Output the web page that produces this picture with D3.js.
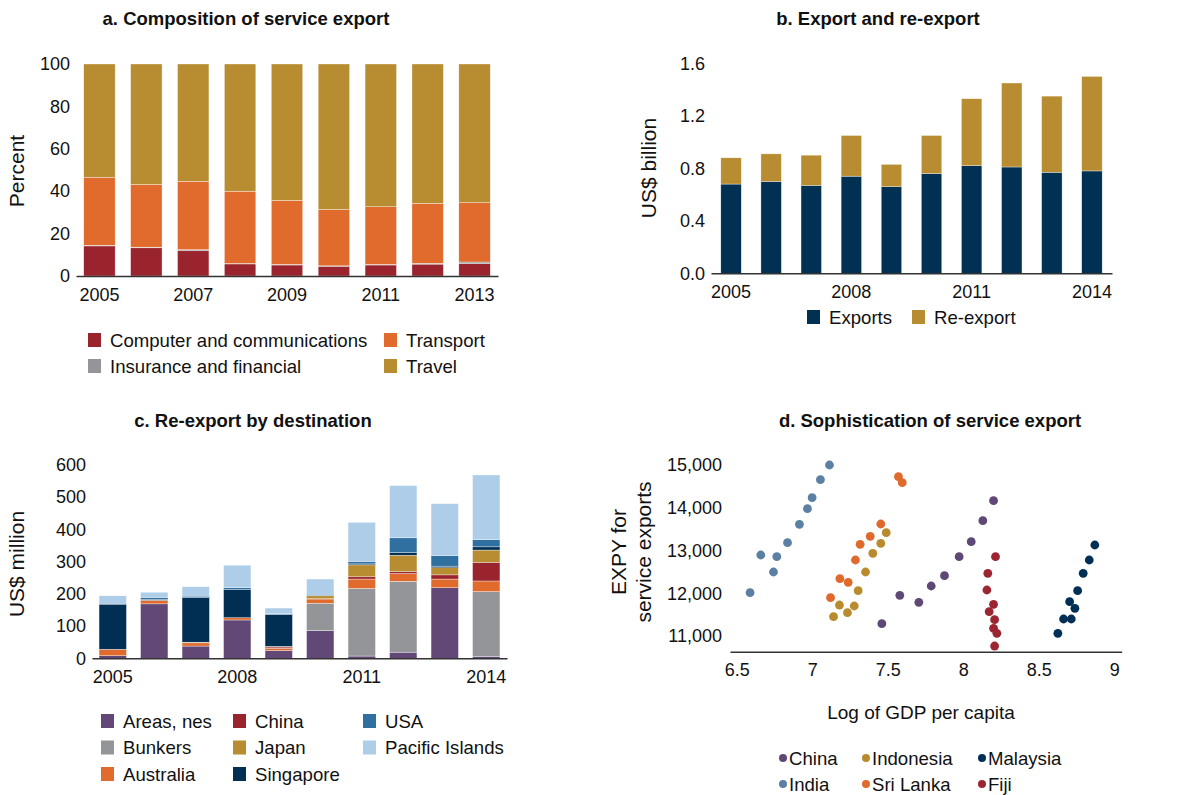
<!DOCTYPE html>
<html>
<head>
<meta charset="utf-8">
<script src="https://cdn.jsdelivr.net/npm/d3@7/dist/d3.min.js"></script>
<style>
  html, body { margin: 0; padding: 0; background: #fff; }
  svg { display: block; font-family: "Liberation Sans", Arial, Helvetica, sans-serif; }
  .axis text { font-size: 18px; fill: #111; }
</style>
</head>
<body>
<svg id="chart" width="1198" height="795"></svg>
<script>
// ---------- Panel a: Composition of service export (percent) ----------
const yearsA = [2005, 2006, 2007, 2008, 2009, 2010, 2011, 2012, 2013];
const compComm = [14.2, 13.3, 11.9, 5.7, 5.2, 4.6, 5.2, 5.6, 5.8];
const insFin   = [0.3, 0.3, 0.5, 0.2, 0.3, 0.2, 0.3, 0.4, 0.8];
const transport = [32.1, 29.6, 32.3, 34.1, 30.2, 26.6, 27.2, 28.3, 28.0];
const travel   = [53.4, 56.8, 55.3, 60.0, 64.3, 68.6, 67.3, 65.7, 65.4];
const seriesA = ["Computer and communications", "Insurance and financial", "Transport", "Travel"];
const ticksA = [0, 20, 40, 60, 80, 100];
const xLabelsA = [2005, 2007, 2009, 2011, 2013];

// ---------- Panel b: Export and re-export (US$ billion) ----------
const yearsB = [2005, 2006, 2007, 2008, 2009, 2010, 2011, 2012, 2013, 2014];
const exportsB  = [0.68, 0.70, 0.67, 0.74, 0.66, 0.76, 0.82, 0.81, 0.77, 0.78];
const reexportB = [0.20, 0.21, 0.23, 0.31, 0.17, 0.29, 0.51, 0.64, 0.58, 0.72];
const seriesB = ["Exports", "Re-export"];
const ticksB = [0, 0.4, 0.8, 1.2, 1.6];
const xLabelsB = [2005, 2008, 2011, 2014];

// ---------- Panel c: Re-export by destination (US$ million) ----------
const yearsC = [2005, 2006, 2007, 2008, 2009, 2010, 2011, 2012, 2013, 2014];
const areasNes  = [8, 169, 38, 119, 24, 86, 7, 19, 219, 6];
const bunkers   = [0, 0, 0, 0, 0, 85, 210, 220, 0, 201];
const australia = [20, 11, 10, 7, 7, 13, 29, 24, 27, 33];
const chinaC    = [0, 0, 0, 0, 4, 1, 7, 6, 13, 58];
const japan     = [0, 0, 2, 0, 2, 9, 37, 51, 22, 38];
const singapore = [140, 3, 138, 87, 99, 1, 3, 8, 5, 10];
const usa       = [3, 6, 5, 6, 3, 4, 8, 46, 33, 22];
const pacific   = [23, 16, 29, 70, 17, 47, 121, 162, 161, 201];
const seriesC = ["Areas, nes", "Bunkers", "Australia", "China", "Japan", "Singapore", "USA", "Pacific Islands"];
const ticksC = [0, 100, 200, 300, 400, 500, 600];
const xLabelsC = [2005, 2008, 2011, 2014];

// ---------- Panel d: Sophistication of service export ----------
const countriesD = ["China", "Indonesia", "Malaysia", "India", "Sri Lanka", "Fiji"];
const chinaGdp = [8.201, 8.130, 8.053, 7.973, 7.876, 7.788, 7.706, 7.580, 7.461];
const chinaExpy = [14166, 13698, 13207, 12856, 12411, 12170, 11788, 11951, 11289];
const indonesiaGdp = [7.490, 7.454, 7.401, 7.353, 7.304, 7.180, 7.278, 7.233, 7.141];
const indonesiaExpy = [13417, 13168, 12934, 12497, 12060, 11725, 11702, 11546, 11452];
const malaysiaGdp = [8.872, 8.835, 8.795, 8.758, 8.705, 8.740, 8.665, 8.716, 8.627];
const malaysiaExpy = [13129, 12778, 12466, 12060, 11803, 11647, 11398, 11398, 11062];
const indiaGdp = [6.588, 6.659, 6.765, 6.743, 6.836, 6.915, 6.968, 6.999, 7.054, 7.114];
const indiaExpy = [12014, 12895, 12856, 12497, 13183, 13612, 13979, 14236, 14657, 15000];
const sriLankaGdp = [7.571, 7.596, 7.454, 7.384, 7.317, 7.286, 7.183, 7.238, 7.121];
const sriLankaExpy = [14727, 14587, 13620, 13331, 13144, 12778, 12341, 12255, 11897];
const fijiGdp = [8.214, 8.163, 8.157, 8.201, 8.172, 8.208, 8.201, 8.223, 8.208];
const fijiExpy = [12856, 12466, 12076, 11741, 11569, 11382, 11179, 11062, 10766];
const ticksDx = [6.5, 7, 7.5, 8, 8.5, 9];
const ticksDy = [11000, 12000, 13000, 14000, 15000];

// ---------- Colours ----------
const colA = { "Computer and communications": "#9a242e", "Insurance and financial": "#939598", "Transport": "#e06b2c", "Travel": "#b88c30" };
const colB = { "Exports": "#003153", "Re-export": "#b88c30" };
const colC = { "Areas, nes": "#624876", "Bunkers": "#939598", "Australia": "#e06b2c", "China": "#9a242e",
               "Japan": "#b88c30", "Singapore": "#002f53", "USA": "#2f70a1", "Pacific Islands": "#aecde9" };
const colD = { "China": "#5f4876", "Indonesia": "#b88c2e", "Malaysia": "#002f56", "India": "#5b80a3", "Sri Lanka": "#e06a2c", "Fiji": "#9b2530" };

const svg = d3.select("#chart");
const AXIS_COLOR = "#333";

function title(x, y, txt) {
  svg.append("text").attr("x", x).attr("y", y).attr("text-anchor", "middle")
    .attr("font-size", 18.5).attr("font-weight", "bold").attr("fill", "#111").text(txt);
}
function yLabel(x, y, lines) {
  const t = svg.append("text").attr("transform", `translate(${x},${y}) rotate(-90)`)
    .attr("text-anchor", "middle").attr("font-size", 21).attr("fill", "#111");
  lines.forEach((l, i) => t.append("tspan").attr("x", 0).attr("dy", i === 0 ? 0 : 25).text(l));
}
function bottomAxis(x, yPos, tickVals, fmt) {
  const g = svg.append("g").attr("class", "axis").attr("transform", `translate(0,${yPos})`)
    .call(d3.axisBottom(x).tickValues(tickVals).tickSize(0).tickSizeOuter(0).tickPadding(12).tickFormat(fmt || (d => d)));
  g.select(".domain").attr("stroke", AXIS_COLOR).attr("stroke-width", 1.4);
  g.selectAll("text").attr("font-size", 18).attr("fill", "#111").attr("font-family", null);
  return g;
}
function leftAxis(y, xPos, tickVals, fmt) {
  const g = svg.append("g").attr("class", "axis").attr("transform", `translate(${xPos},0)`)
    .call(d3.axisLeft(y).tickValues(tickVals).tickSize(0).tickPadding(6).tickFormat(fmt || (d => d)));
  g.select(".domain").remove();
  g.selectAll("text").attr("font-size", 18).attr("fill", "#111").attr("font-family", null);
  return g;
}
function stackedBars(years, keys, table, x, y, colors) {
  const stack = d3.stack().keys(keys)(table);
  svg.append("g").selectAll("g").data(stack).join("g")
    .attr("fill", d => colors[d.key])
    .selectAll("rect").data(d => d).join("rect")
    .attr("x", d => x(d.data.year))
    .attr("width", x.bandwidth())
    .attr("y", d => y(d[1]))
    .attr("height", d => Math.max(0, y(d[0]) - y(d[1])))
    .attr("stroke", "#fff").attr("stroke-width", 0.5).attr("stroke-opacity", 0.7);
}
function squareLegend(items, colors, positions) {
  items.forEach((k, i) => {
    const p = positions[i];
    svg.append("rect").attr("x", p[0]).attr("y", p[1] - 7).attr("width", 13).attr("height", 14).attr("fill", colors[k]);
    svg.append("text").attr("x", p[0] + 22).attr("y", p[1]).attr("dy", "0.35em")
      .attr("font-size", 18.6).attr("fill", "#111").text(k);
  });
}

// ===== Panel a =====
{
  const table = yearsA.map((yr, i) => ({ year: yr, "Computer and communications": compComm[i],
    "Insurance and financial": insFin[i], "Transport": transport[i], "Travel": travel[i] }));
  const x = d3.scaleBand().domain(yearsA).range([76, 498]).paddingInner(0.33).paddingOuter(0.165);
  const y = d3.scaleLinear().domain([0, 100]).range([276, 64]);
  stackedBars(yearsA, seriesA, table, x, y, colA);
  bottomAxis(x, 276, xLabelsA);
  leftAxis(y, 76, ticksA);
  title(246, 25, "a. Composition of service export");
  yLabel(24, 171, ["Percent"]);
  squareLegend(seriesA, colA, [[88, 340], [88, 366], [384, 340], [384, 366]]);
}

// ===== Panel b =====
{
  const table = yearsB.map((yr, i) => ({ year: yr, "Exports": exportsB[i], "Re-export": reexportB[i] }));
  const x = d3.scaleBand().domain(yearsB).range([711, 1112]).paddingInner(0.49).paddingOuter(0.245);
  const y = d3.scaleLinear().domain([0, 1.6]).range([273.3, 63.3]);
  stackedBars(yearsB, seriesB, table, x, y, colB);
  bottomAxis(x, 273.3, xLabelsB);
  leftAxis(y, 711, ticksB, d3.format(".1f"));
  title(878, 25, "b. Export and re-export");
  yLabel(656, 168, ["US$ billion"]);
  squareLegend(seriesB, colB, [[807, 317], [912, 317]]);
}

// ===== Panel c =====
{
  const cols = [areasNes, bunkers, australia, chinaC, japan, singapore, usa, pacific];
  const table = yearsC.map((yr, i) => {
    const o = { year: yr };
    seriesC.forEach((k, j) => { o[k] = cols[j][i]; });
    return o;
  });
  const x = d3.scaleBand().domain(yearsC).range([92, 507]).paddingInner(0.34).paddingOuter(0.17);
  const y = d3.scaleLinear().domain([0, 600]).range([658.3, 465]);
  stackedBars(yearsC, seriesC, table, x, y, colC);
  bottomAxis(x, 658.3, xLabelsC);
  leftAxis(y, 92, ticksC);
  title(253, 427, "c. Re-export by destination");
  yLabel(24, 564, ["US$ million"]);
  const rows = [721, 747.5, 774];
  squareLegend(seriesC, colC, [[101, rows[0]], [101, rows[1]], [101, rows[2]],
    [233, rows[0]], [233, rows[1]], [233, rows[2]], [363, rows[0]], [363, rows[1]]]);
}

// ===== Panel d =====
{
  const x = d3.scaleLinear().domain([6.455, 9.05]).range([730, 1121.7]);
  const y = d3.scaleLinear().domain([10633, 15000]).range([651.7, 465]);
  const gdps = { "China": chinaGdp, "Indonesia": indonesiaGdp, "Malaysia": malaysiaGdp, "India": indiaGdp, "Sri Lanka": sriLankaGdp, "Fiji": fijiGdp };
  const expys = { "China": chinaExpy, "Indonesia": indonesiaExpy, "Malaysia": malaysiaExpy, "India": indiaExpy, "Sri Lanka": sriLankaExpy, "Fiji": fijiExpy };
  const pts = [];
  ["India", "Indonesia", "Sri Lanka", "China", "Fiji", "Malaysia"].forEach(c => {
    gdps[c].forEach((g, i) => pts.push({ c, g, e: expys[c][i] }));
  });
  bottomAxis(x, 651.7, ticksDx, d => d);
  leftAxis(y, 728, ticksDy, d3.format(","));
  svg.append("g").selectAll("circle").data(pts).join("circle")
    .attr("cx", d => x(d.g)).attr("cy", d => y(d.e)).attr("r", 4.4)
    .attr("fill", d => colD[d.c]);
  title(930, 427, "d. Sophistication of service export");
  yLabel(625.5, 552, ["EXPY for", "service exports"]);
  svg.append("text").attr("x", 921).attr("y", 719).attr("text-anchor", "middle")
    .attr("font-size", 19).attr("fill", "#111").text("Log of GDP per capita");
  const legPos = { "China": [783, 758], "Indonesia": [866, 758], "Malaysia": [982, 758],
                   "India": [783, 784], "Sri Lanka": [866, 784], "Fiji": [982, 784] };
  ["China", "Indonesia", "Malaysia", "India", "Sri Lanka", "Fiji"].forEach(k => {
    const p = legPos[k];
    svg.append("circle").attr("cx", p[0]).attr("cy", p[1]).attr("r", 4).attr("fill", colD[k]);
    svg.append("text").attr("x", p[0] + 6).attr("y", p[1]).attr("dy", "0.35em")
      .attr("font-size", 18.6).attr("fill", "#111").text(k);
  });
}
</script>
</body>
</html>
